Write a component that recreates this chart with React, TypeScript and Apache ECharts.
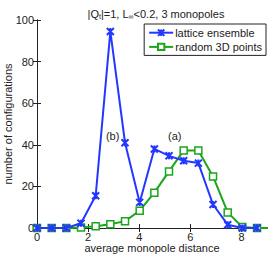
import React, { useEffect, useRef } from "react";
import * as echarts from "echarts";

const xValues = [0, 0.574, 1.148, 1.722, 2.296, 2.87, 3.444, 4.018, 4.592, 5.166, 5.74, 6.314, 6.888, 7.462, 8.036, 8.61];
const latticeEnsemble = [0, 0, 0, 2.3, 15.5, 94.5, 41, 12.3, 38, 34.7, 32.3, 31.2, 11.3, 1.6, 0, 0];
const random3D = [0, 0, 0, 0.3, 0.8, 1.8, 3.3, 8.3, 17, 27.2, 37.3, 37.3, 24.8, 7.5, 0.5, 0];
const xTicks = [0, 2, 4, 6, 8];
const yTicks = [0, 20, 40, 60, 80, 100];

const BLUE = "#2337ff";
const GREEN = "#1aa51a";
const FONT = "Liberation Sans, Arial, sans-serif";
const CROSS = "path://M0,0L10,10M10,0L0,10M5,0L5,3M5,7L5,10";

export default function App() {
  const ref = useRef<HTMLDivElement>(null);
  useEffect(() => {
    if (!ref.current) return;
    const chart = echarts.init(ref.current, undefined, { renderer: "svg" });
    const blueData = xValues.map((x, i) => [x, latticeEnsemble[i]]);
    const greenData = xValues.map((x, i) => [x, random3D[i]]);
    greenData.push([9.184, 0]);
    const axisCommon = {
      axisLine: { show: true, lineStyle: { color: "#222", width: 1 } },
      splitLine: { show: false },
    };
    chart.setOption({
      animation: false,
      textStyle: { fontFamily: FONT },
      title: {
        text: "|Q{sub|t}|=1, L{sub|∞}<0.2, 3 monopoles",
        left: 151,
        textAlign: "center",
        top: 2,
        textStyle: {
          fontSize: 11,
          fontWeight: "normal",
          color: "#222",
          fontFamily: FONT,
          rich: { sub: { fontSize: 7, verticalAlign: "bottom", padding: [6, 0, 0, 0], color: "#222", fontFamily: FONT } },
        },
      },
      grid: { left: 37, right: 7, top: 20, bottom: 28, containLabel: false, outerBoundsMode: "none" },
      legend: {
        right: 8,
        top: 24,
        orient: "vertical",
        backgroundColor: "#fff",
        borderColor: "#222",
        borderWidth: 1,
        borderRadius: 0,
        padding: [3, 4, 3, 4],
        itemGap: 3,
        itemWidth: 24,
        itemHeight: 8,
        textStyle: { fontSize: 11, color: "#222", fontFamily: FONT, padding: [0, 0, 0, -3] },
        data: ["lattice ensemble", "random 3D points"],
      },
      xAxis: [
        {
          type: "value",
          min: 0,
          max: 9,
          interval: 2,
          position: "bottom",
          ...axisCommon,
          axisLabel: {
            fontSize: 11,
            color: "#222",
            fontFamily: FONT,
            margin: 3,
            customValues: xTicks,
          },
          axisTick: { show: true, inside: true, length: 4, lineStyle: { color: "#222" }, customValues: xTicks },
          name: "average monopole distance",
          nameLocation: "middle",
          nameGap: 14,
          nameMoveOverlap: false,
          nameTextStyle: { fontSize: 11, color: "#222", fontFamily: FONT },
        },
        {
          type: "value",
          min: 0,
          max: 9,
          interval: 2,
          position: "top",
          ...axisCommon,
          axisTick: { show: true, inside: true, length: 4, lineStyle: { color: "#222" }, customValues: xTicks },
          axisLabel: { show: false },
        },
      ],
      yAxis: [
        {
          type: "value",
          min: 0,
          max: 100,
          interval: 20,
          position: "left",
          ...axisCommon,
          axisTick: { show: true, inside: true, length: 4, lineStyle: { color: "#222" } },
          axisLabel: { fontSize: 11, color: "#222", fontFamily: FONT, margin: 3, customValues: yTicks },
          name: "number of configurations",
          nameLocation: "middle",
          nameGap: 24,
          nameMoveOverlap: false,
          nameTextStyle: { fontSize: 11, color: "#222", fontFamily: FONT },
        },
        {
          type: "value",
          min: 0,
          max: 100,
          interval: 20,
          position: "right",
          ...axisCommon,
          axisTick: { show: true, inside: true, length: 4, lineStyle: { color: "#222" } },
          axisLabel: { show: false },
        },
      ],
      series: [
        {
          name: "lattice ensemble",
          type: "line",
          data: blueData,
          symbol: CROSS,
          symbolSize: 7,
          showAllSymbol: true,
          clip: true,
          lineStyle: { color: BLUE, width: 2 },
          itemStyle: { color: "none", borderColor: BLUE, borderWidth: 2 },
          z: 3,
          markPoint: {
            symbol: "rect",
            symbolSize: 0,
            label: { show: true, position: "inside", color: "#222", fontSize: 11, fontFamily: FONT, formatter: "{b}" },
            data: [
              { name: "(b)", coord: [2.96, 44] },
              { name: "(a)", coord: [5.39, 44] },
            ],
          },
        },
        {
          name: "random 3D points",
          type: "line",
          data: greenData,
          symbol: "rect",
          symbolSize: 7,
          showAllSymbol: true,
          clip: true,
          lineStyle: { color: GREEN, width: 2 },
          itemStyle: { color: "#ffffff", borderColor: GREEN, borderWidth: 1.5 },
          z: 2,
        },
      ],
    });
    return () => chart.dispose();
  }, []);
  return (
    <div
      ref={ref}
      style={{ position: "fixed", left: 0, top: 0, width: 274, height: 256, background: "#fff" }}
    />
  );
}
